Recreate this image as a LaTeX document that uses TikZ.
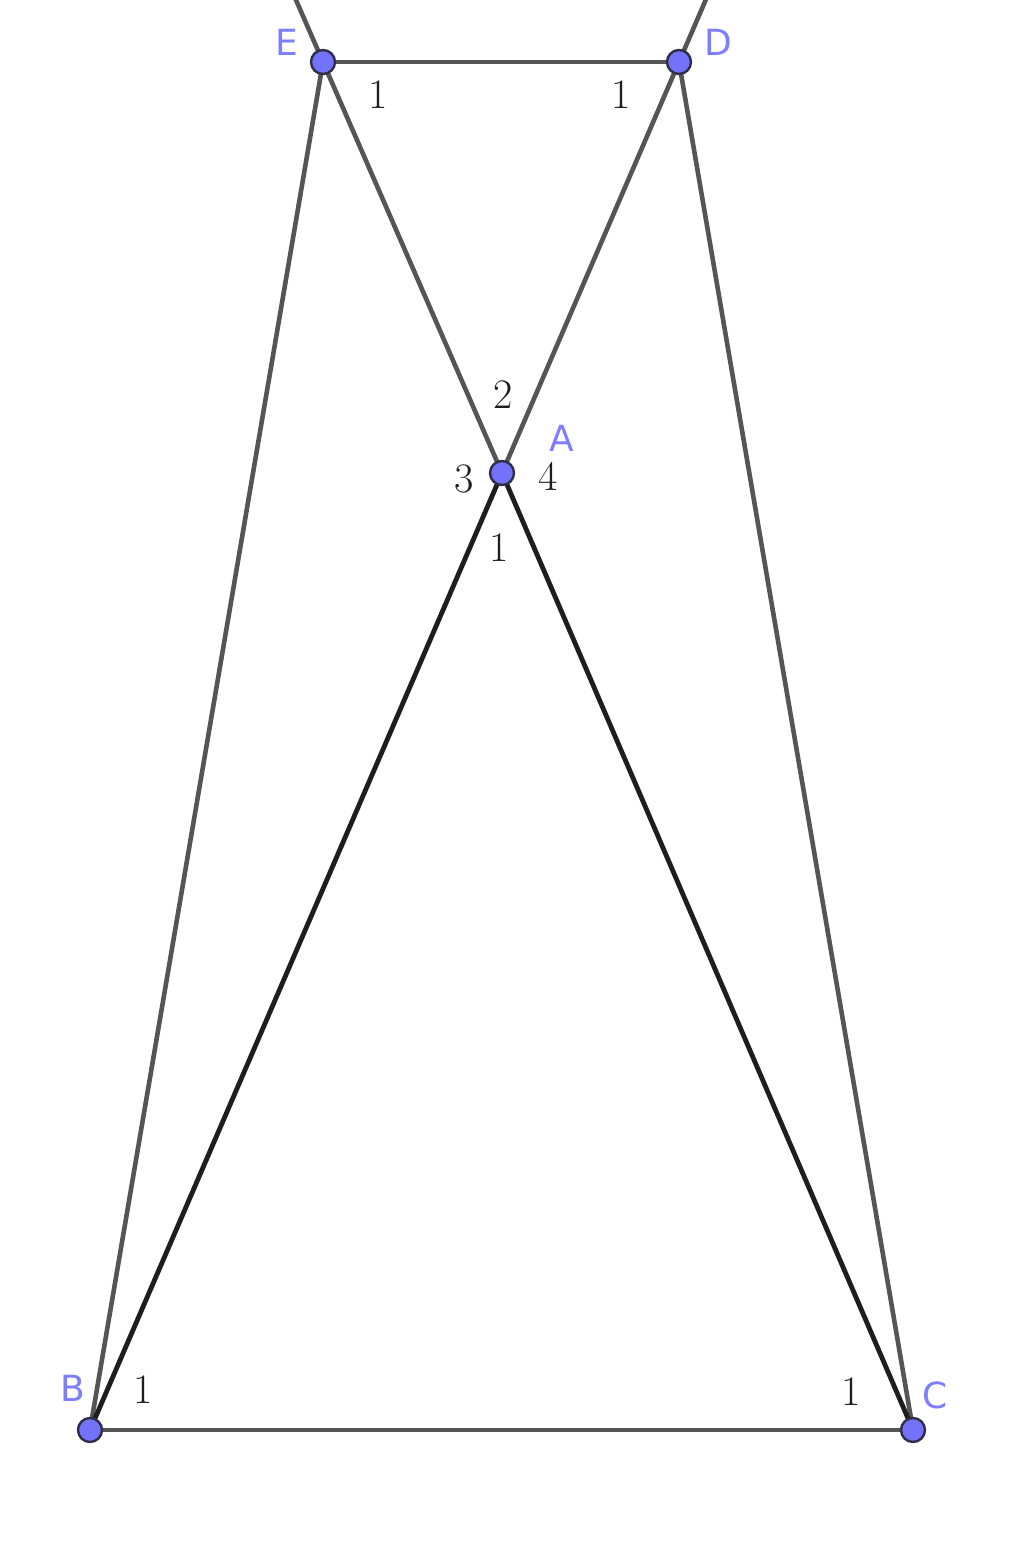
\documentclass[tikz,border=0pt]{standalone}
\usepackage{fontspec}
\newfontfamily\ggbfont{DejaVu Sans}
\usetikzlibrary{calc}
\definecolor{ptblue}{RGB}{115,115,250}
\definecolor{lblblue}{RGB}{125,125,255}
\definecolor{linegray}{RGB}{85,85,85}
\definecolor{linedark}{RGB}{30,30,30}
\tikzset{
  pt/.style = {circle, draw=linedark!80!ptblue, fill=ptblue, line width=1.2pt, minimum size=12pt, inner sep=0pt},
  ptlabel/.style = {text=lblblue, font=\ggbfont\fontsize{18}{20}\selectfont, inner sep=0pt},
  anglabel/.style = {text=linedark, font=\fontsize{21}{24}\selectfont, inner sep=0pt},
  seg/.style = {draw=linegray, line width=2.3pt},
  segdark/.style = {draw=linedark, line width=2.4pt}
}

\begin{document}
\begin{tikzpicture}[x=0.5pt,y=-0.5pt]
  \useasboundingbox (0,0) rectangle (1024,1558);
  \clip (0,0) rectangle (1024,1558);
  % points
  \coordinate (E) at (323,62);
  \coordinate (D) at (679,62);
  \coordinate (A) at (502,473);
  \coordinate (B) at (90,1430);
  \coordinate (C) at (913,1430);
  \coordinate (Etop) at ($(A)!1.2!(E)$);
  \coordinate (Dtop) at ($(A)!1.2!(D)$);
  % gray lines
  \draw[seg] (E) -- (D);
  \draw[seg] (B) -- (C);
  \draw[seg] (E) -- (B);
  \draw[seg] (D) -- (C);
  \draw[seg] (Etop) -- (A);
  \draw[seg] (Dtop) -- (A);
  % dark lines
  \draw[segdark] (A) -- (B);
  \draw[segdark] (A) -- (C);
  % angle numbers
  \node[anglabel] (e1) at (378,95) {1};
  \node[anglabel] (d1) at (621,95) {1};
  \node[anglabel] (a2) at (503,395) {2};
  \node[anglabel] (a3) at (464,479) {3};
  \node[anglabel] (a4) at (548,476) {4};
  \node[anglabel] (a1) at (499,548) {1};
  \node[anglabel] (b1) at (143,1390) {1};
  \node[anglabel] (c1) at (851,1392) {1};
  % point markers and names
  \foreach \p/\lx/\ly in {E/287/42, D/718/42, A/562/438, B/73/1388, C/935/1395} {
    \node[pt] (pt\p) at (\p) {};
    \node[ptlabel] (lbl\p) at (\lx,\ly) {\p};
  }
\end{tikzpicture}
\end{document}
